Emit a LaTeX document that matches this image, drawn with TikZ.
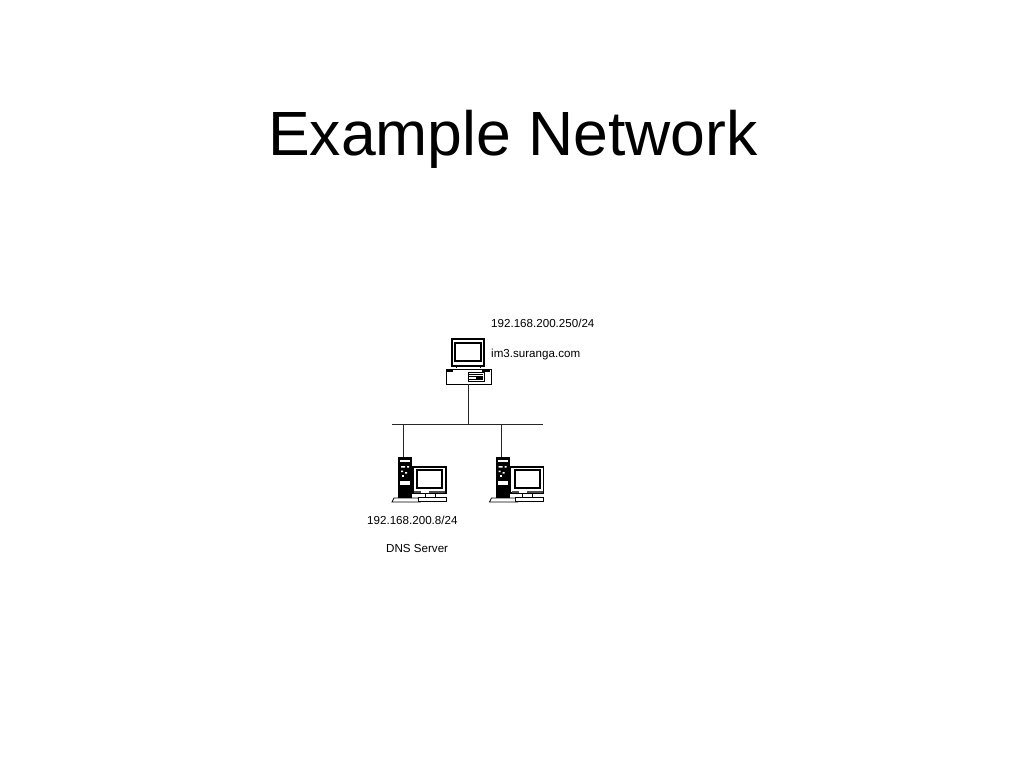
\documentclass[tikz,border=0pt]{standalone}
\usepackage{fontspec}
\setmainfont{Liberation Sans}
\usetikzlibrary{positioning}
\tikzset{
  lan/.style={line width=1pt,black!85},
  iplabel/.style={inner sep=0pt,font=\fontsize{11.6pt}{13pt}\selectfont,anchor=west},
  screen/.style={draw=black,line width=1.1pt,fill=white},
  pics/deskpc/.style={code={
    % origin is the top left corner of the case
    \draw[screen] (6,-30) rectangle (38,-3);
    \draw[line width=2pt,fill=white] (9,-26) rectangle (35,-8);
    \draw[line width=.7pt] (10,-3) -- (10,-1) (34,-3) -- (34,-1);
    \draw[line width=.8pt,fill=white] (0,0) rectangle (45,15);
    \fill (1,1) rectangle (7,2.6);
    \fill (36,1) rectangle (44,2.6);
    \draw[line width=.6pt] (22,3) rectangle (38,12);
    \fill (30,6.5) rectangle (37,11);
    \draw[line width=.5pt] (23,5) -- (37,5) (23,7.5) -- (30,7.5) (23,10) -- (30,10);
  }},
  pics/towerpc/.style={code={
    % origin is the top left corner of the tower
    \fill (0,0) rectangle (14,41);
    \fill[white] (2,3) rectangle (12,5);
    \fill[white] (3,9) rectangle (7,10.5) (9,9) rectangle (11,10.5);
    \fill[white] (3,13.5) rectangle (5,15) (7,15) rectangle (9,16.5);
    \fill[white] (4,18) rectangle (6,20);
    \fill[white] (2,24) rectangle (12,28);
    \draw[line width=.7pt,fill=white] (-6,45) -- (-4,41) -- (20,41) -- (22,45) -- cycle;
    \draw[screen] (15,10) rectangle (48,36);
    \draw[line width=2pt,fill=white] (19,13) rectangle (44,31);
    \fill[black!70] (16,34) rectangle (47,35.6);
    \fill[white] (23,33.8) rectangle (31,35.8);
    \draw[line width=.7pt] (27,36) -- (27,40) (37,36) -- (37,40);
    \draw[line width=.8pt,fill=white] (20,40) rectangle (48,44);
  }}
}
\begin{document}
\begin{tikzpicture}[x=1pt,y=-1pt]
\useasboundingbox (0,0) rectangle (1024,768);
\node (title) at (513,139) {\fontsize{62.5pt}{70pt}\selectfont Example Network};

\pic at (446,369) {deskpc};
\pic at (398,457) {towerpc};
\pic at (495.5,457) {towerpc};

\coordinate (desk) at (468.5,384);
\coordinate (busl) at (392,424);
\coordinate (busr) at (543,424);
\coordinate (dns) at (403,457);
\coordinate (host) at (501,457);

\draw[lan] (busl) -- (busr);
\draw[lan] (desk) -- (desk |- busl);
\draw[lan] (dns) -- (dns |- busl);
\draw[lan] (host) -- (host |- busl);

\node[iplabel] (imip) at (491,323) {192.168.200.250/24};
\node[iplabel] (imname) at (491,354) {im3.suranga.com};
\node[iplabel] (dnsip) at (367,520) {192.168.200.8/24};
\node[iplabel] (dnsname) at (386,548) {DNS Server};
\end{tikzpicture}
\end{document}
